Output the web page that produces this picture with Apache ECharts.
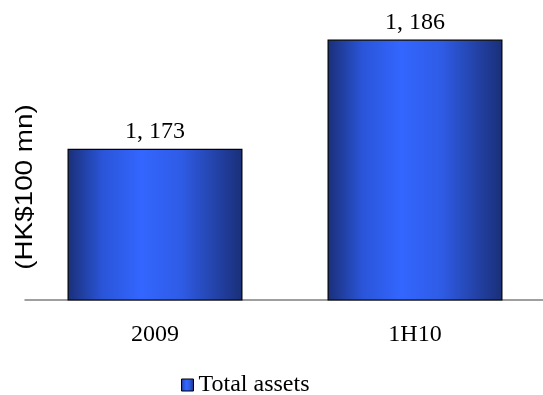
<!DOCTYPE html>
<html><head><meta charset="utf-8">
<script src="https://cdn.jsdelivr.net/npm/echarts@6/dist/echarts.min.js"></script>
<style>html,body{margin:0;padding:0;background:#fff}#c{width:543px;height:395px}</style>
</head><body><div id="c"></div>
<script>
const categories = ['2009', '1H10'];
const totalAssets = [1173, 1186];
const seriesName = 'Total assets';
const yTitle = '(HK$100 mn)';

const grad = new echarts.graphic.LinearGradient(0, 0, 1, 0, [
  {offset: 0, color: '#1a2f78'},
  {offset: 0.2, color: '#2a55d8'},
  {offset: 0.42, color: '#3366ff'},
  {offset: 0.65, color: '#2f5ce6'},
  {offset: 1, color: '#1a2f78'}
]);
const chart = echarts.init(document.getElementById('c'), null, {renderer: 'canvas'});
chart.setOption({
  animation: false,
  grid: {left: 25, right: -2, top: 6, bottom: 95, containLabel: false, outerBoundsMode: 'none'},
  legend: {
    data: [seriesName], top: 368, left: 176,
    icon: 'rect', itemWidth: 12, itemHeight: 12, itemGap: 7,
    textStyle: {fontFamily: 'Liberation Serif', fontSize: 24, color: '#000'},
    itemStyle: {color: grad, borderColor: '#000', borderWidth: 1}
  },
  graphic: [{
    type: 'text', x: 25, y: 187, rotation: Math.PI / 2, scaleX: 1.16,
    style: {text: yTitle, fontFamily: 'Liberation Sans', fontSize: 24, fill: '#000',
            align: 'center', verticalAlign: 'middle'}
  }],
  xAxis: {
    type: 'category', data: categories,
    axisLine: {lineStyle: {color: '#808080', width: 1.5}},
    axisTick: {show: false},
    axisLabel: {fontFamily: 'Liberation Serif', fontSize: 24, color: '#000', margin: 23}
  },
  yAxis: {
    type: 'value', min: 1155, max: 1190,
    axisLine: {show: false}, axisTick: {show: false}, axisLabel: {show: false},
    splitLine: {show: false}
  },
  series: [{
    name: seriesName, type: 'bar', data: totalAssets, barWidth: '67.3%',
    itemStyle: {color: grad, borderColor: '#000', borderWidth: 1.2},
    label: {
      show: true, position: 'top', distance: 5,
      fontFamily: 'Liberation Serif', fontSize: 24, color: '#000',
      formatter: p => { const s = String(p.value); return s.slice(0, s.length - 3) + ', ' + s.slice(-3); }
    }
  }]
});
</script></body></html>
